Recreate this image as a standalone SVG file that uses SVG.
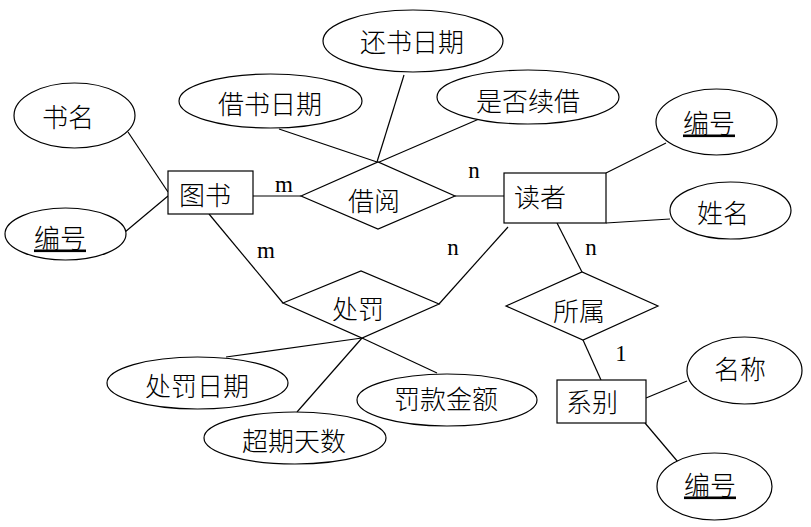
<svg xmlns="http://www.w3.org/2000/svg" width="811" height="527" viewBox="0 0 811 527">
<style>
.s{fill:#fff;stroke:#000;stroke-width:1.2}
.l{stroke:#000;stroke-width:1.2;fill:none}
.t{font-family:"Noto Sans CJK SC","Noto Sans CJK JP",sans-serif;font-size:26px;font-weight:300;text-anchor:middle;dominant-baseline:central;fill:#000}
.u{text-decoration:underline}
.c{font-family:"Liberation Serif",serif;font-size:23px;text-anchor:middle;fill:#000}
</style>
<rect width="811" height="527" fill="#fff"/>
<g id="connectors">
<line class="l" x1="128" y1="132" x2="168" y2="192"/>
<line class="l" x1="125" y1="232" x2="168" y2="196"/>
<line class="l" x1="253" y1="196" x2="301" y2="196"/>
<line class="l" x1="279" y1="129" x2="377" y2="162"/>
<line class="l" x1="404" y1="75" x2="377" y2="162"/>
<line class="l" x1="479" y1="119" x2="377" y2="163"/>
<line class="l" x1="455" y1="196" x2="504" y2="196"/>
<line class="l" x1="209" y1="214" x2="283" y2="303"/>
<line class="l" x1="508" y1="227" x2="439" y2="304"/>
<line class="l" x1="362" y1="338" x2="226" y2="357"/>
<line class="l" x1="362" y1="338" x2="297" y2="412"/>
<line class="l" x1="362" y1="338" x2="437" y2="373"/>
<line class="l" x1="606" y1="173" x2="666" y2="143"/>
<line class="l" x1="606" y1="223" x2="670" y2="219"/>
<line class="l" x1="557" y1="223" x2="582" y2="272"/>
<line class="l" x1="583" y1="340" x2="601" y2="380"/>
<line class="l" x1="646" y1="398" x2="687" y2="381"/>
<line class="l" x1="645" y1="423" x2="678" y2="462"/>
<text class="c" x="284" y="192">m</text>
<text class="c" x="266" y="258">m</text>
<text class="c" x="474" y="178">n</text>
<text class="c" x="453" y="255">n</text>
<text class="c" x="591" y="255">n</text>
<text class="c" x="621" y="361">1</text>
</g>
<g id="book">
<rect class="s" x="168" y="171" width="85" height="43"/>
<text class="t" x="205" y="193">图书</text>
</g>
<g id="book-name">
<ellipse class="s" cx="74.5" cy="115.5" rx="60.5" ry="32.5"/>
<text class="t" x="68" y="115">书名</text>
</g>
<g id="book-id">
<ellipse class="s" cx="65.5" cy="234" rx="60.5" ry="26"/>
<text class="t u" x="60" y="236">编号</text>
</g>
<g id="borrow">
<polygon class="s" points="301,196 378,162 455,196 378,229"/>
<text class="t" x="374" y="199">借阅</text>
</g>
<g id="borrow-date">
<ellipse class="s" cx="270.5" cy="101" rx="91.5" ry="27"/>
<text class="t" x="270" y="102">借书日期</text>
</g>
<g id="return-date">
<ellipse class="s" cx="413" cy="41" rx="90" ry="31"/>
<text class="t" x="412" y="40">还书日期</text>
</g>
<g id="renew">
<ellipse class="s" cx="528" cy="97" rx="91" ry="27"/>
<text class="t" x="528" y="99">是否续借</text>
</g>
<g id="reader">
<rect class="s" x="504" y="173" width="102" height="50"/>
<text class="t" x="540" y="195">读者</text>
</g>
<g id="reader-id">
<ellipse class="s" cx="716.5" cy="122" rx="60.5" ry="33"/>
<text class="t u" x="709" y="121">编号</text>
</g>
<g id="reader-name">
<ellipse class="s" cx="730.5" cy="210.5" rx="60.5" ry="28.5"/>
<text class="t" x="723" y="211">姓名</text>
</g>
<g id="penalty">
<polygon class="s" points="283,303 361,271 439,304 362,338"/>
<text class="t" x="358" y="307">处罚</text>
</g>
<g id="penalty-date">
<ellipse class="s" cx="197.5" cy="383" rx="90.5" ry="26"/>
<text class="t" x="197" y="384">处罚日期</text>
</g>
<g id="overdue-days">
<ellipse class="s" cx="295" cy="438" rx="91" ry="26"/>
<text class="t" x="294" y="439">超期天数</text>
</g>
<g id="fine-amount">
<ellipse class="s" cx="447" cy="400" rx="90" ry="26"/>
<text class="t" x="446" y="397">罚款金额</text>
</g>
<g id="belong">
<polygon class="s" points="506,306 582,272 658,306 583,340"/>
<text class="t" x="579" y="309">所属</text>
</g>
<g id="dept">
<rect class="s" x="557" y="380" width="89" height="43"/>
<text class="t" x="592" y="400">系别</text>
</g>
<g id="dept-name">
<ellipse class="s" cx="744.5" cy="370.5" rx="57.5" ry="33.5"/>
<text class="t" x="740" y="367">名称</text>
</g>
<g id="dept-id">
<ellipse class="s" cx="714.5" cy="486.5" rx="57.5" ry="33.5"/>
<text class="t u" x="710" y="483">编号</text>
</g>
</svg>
